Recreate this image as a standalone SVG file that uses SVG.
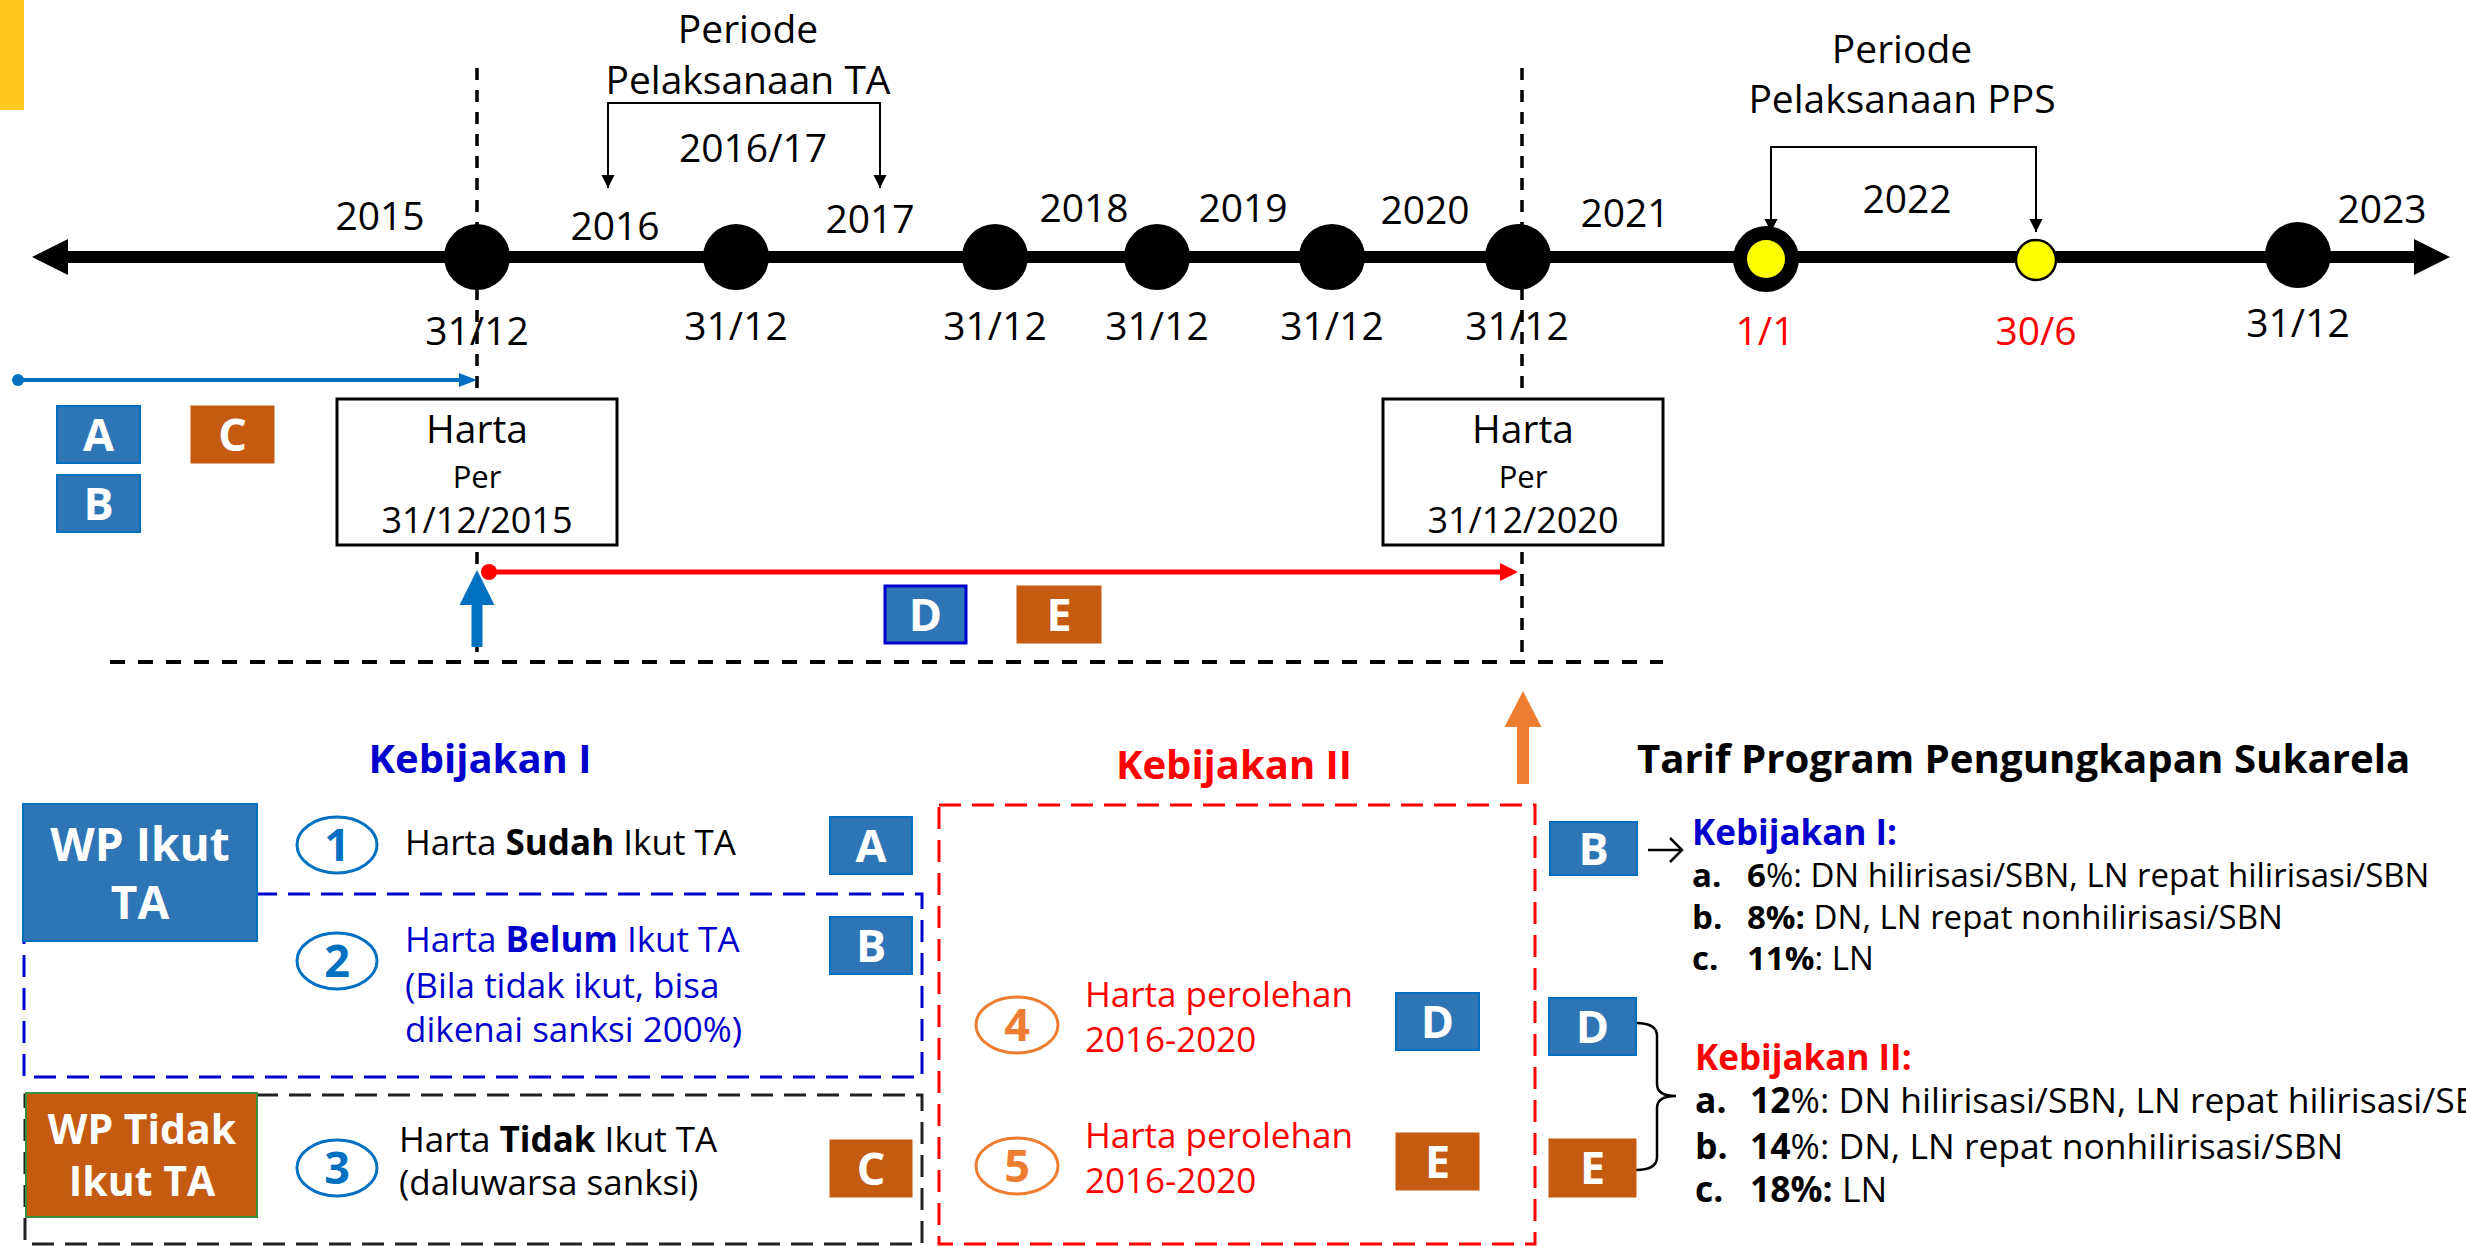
<svg xmlns="http://www.w3.org/2000/svg" width="2466" height="1247" viewBox="0 0 2466 1247">
<defs>
<style>
text{font-family:"Open Sans","Noto Sans","DejaVu Sans",sans-serif;fill:#000}
.tl{font-size:39px;text-anchor:middle}
.red{fill:#FF0000}
.b{font-weight:bold}
.box-blue{fill:#2E75B6;stroke:#0070C0;stroke-width:2}
.box-or{fill:#C55A11;stroke:#C55A11;stroke-width:1}
.lt{font-size:45px;font-weight:bold;fill:#fff;text-anchor:middle}
.dot{fill:#000}
.hb{fill:#fff;stroke:#000;stroke-width:3}
.num{font-size:45px;font-weight:bold;text-anchor:middle}
.item{font-size:35px}
.lst{font-size:33px}
.lst2{font-size:35.5px}
.vdash{stroke:#000;stroke-width:3.5;stroke-dasharray:12 10}
</style>
<marker id="ah" viewBox="0 0 10 10" refX="10" refY="5" markerWidth="13" markerHeight="15" markerUnits="userSpaceOnUse" orient="auto"><path d="M0,0 L10,5 L0,10 Z" fill="#000"/></marker>
</defs>
<rect x="0" y="0" width="2466" height="1247" fill="#fff"/>
<rect x="0" y="0" width="24" height="110" fill="#FFC821"/>

<g id="connectors">
  <line class="vdash" x1="477" y1="68" x2="477" y2="662"/>
  <line class="vdash" x1="1522" y1="68" x2="1522" y2="662"/>
  <line x1="110" y1="662" x2="1663" y2="662" stroke="#000" stroke-width="4" stroke-dasharray="15 13"/>
  <line x1="66" y1="257" x2="2416" y2="257" stroke="#000" stroke-width="12"/>
  <polygon points="32,257 68,239 68,275" fill="#000"/>
  <polygon points="2450,257 2414,239 2414,275" fill="#000"/>
  <polyline points="608,188 608,103 880,103 880,188" fill="none" stroke="#000" stroke-width="2" marker-end="url(#ah)"/>
  <line x1="608" y1="103" x2="608" y2="188" stroke="#000" stroke-width="2" marker-end="url(#ah)"/>
  <polyline points="1771,232 1771,147 2036,147 2036,232" fill="none" stroke="#000" stroke-width="2" marker-end="url(#ah)"/>
  <line x1="1771" y1="147" x2="1771" y2="232" stroke="#000" stroke-width="2" marker-end="url(#ah)"/>
  <line x1="18" y1="380" x2="462" y2="380" stroke="#0070C0" stroke-width="4"/>
  <circle cx="18" cy="380" r="6" fill="#0070C0"/>
  <polygon points="477,380 459,373 459,387" fill="#0070C0"/>
  <line x1="489" y1="572" x2="1502" y2="572" stroke="#FF0000" stroke-width="5"/>
  <circle cx="489" cy="572" r="8" fill="#FF0000"/>
  <polygon points="1518,572 1500,563 1500,581" fill="#FF0000"/>
  <polygon points="471.5,647 482.5,647 482.5,605 494.5,605 477,570 459.5,605 471.5,605" fill="#0070C0"/>
  <polygon points="1517,784 1529,784 1529,727 1541.5,727 1523,691 1504.5,727 1517,727" fill="#ED7D31"/>
  <line x1="1648" y1="850" x2="1681" y2="850" stroke="#000" stroke-width="2.5"/>
  <polyline points="1670,838 1682,850 1670,862" fill="none" stroke="#000" stroke-width="2.5"/>
  <path d="M1636,1023 Q1657,1023 1657,1036 L1657,1084 Q1657,1096 1676,1096 Q1657,1096 1657,1108 L1657,1157 Q1657,1170 1636,1170" fill="none" stroke="#000" stroke-width="2.5"/>
</g>

<g id="timeline-dots">
  <circle class="dot" cx="477" cy="257" r="33"/>
  <circle class="dot" cx="736" cy="257" r="33"/>
  <circle class="dot" cx="995" cy="257" r="33"/>
  <circle class="dot" cx="1157" cy="257" r="33"/>
  <circle class="dot" cx="1332" cy="257" r="33"/>
  <circle class="dot" cx="1518" cy="257" r="33"/>
  <circle class="dot" cx="1766" cy="259" r="33"/>
  <circle cx="1766" cy="259" r="19" fill="#FFFF00"/>
  <circle cx="2036" cy="260" r="20" fill="#FFFF00" stroke="#000" stroke-width="2.5"/>
  <circle class="dot" cx="2298" cy="255" r="33"/>
</g>

<g id="timeline-labels">
  <text class="tl" x="380" y="230">2015</text>
  <text class="tl" x="615" y="240">2016</text>
  <text class="tl" x="870" y="233">2017</text>
  <text class="tl" x="1084" y="222">2018</text>
  <text class="tl" x="1243" y="222">2019</text>
  <text class="tl" x="1425" y="224">2020</text>
  <text class="tl" x="1625" y="227">2021</text>
  <text class="tl" x="1907" y="213">2022</text>
  <text class="tl" x="2382" y="223">2023</text>
  <text class="tl" x="477" y="345">31/12</text>
  <text class="tl" x="736" y="340">31/12</text>
  <text class="tl" x="995" y="340">31/12</text>
  <text class="tl" x="1157" y="340">31/12</text>
  <text class="tl" x="1332" y="340">31/12</text>
  <text class="tl" x="1517" y="340">31/12</text>
  <text class="tl red" x="1765" y="345">1/1</text>
  <text class="tl red" x="2036" y="345">30/6</text>
  <text class="tl" x="2298" y="337">31/12</text>
</g>

<g id="periode-ta">
  <text class="tl" x="748" y="43">Periode</text>
  <text class="tl" x="748" y="94">Pelaksanaan TA</text>
  <text class="tl" x="753" y="162">2016/17</text>
</g>
<g id="periode-pps">
  <text class="tl" x="1902" y="63">Periode</text>
  <text class="tl" x="1902" y="113">Pelaksanaan PPS</text>
</g>

<g id="top-A"><rect class="box-blue" x="57" y="406" width="83" height="57"/><text class="lt" x="98.5" y="450.5">A</text></g>
<g id="top-C"><rect class="box-or" x="191" y="406" width="83" height="57"/><text class="lt" x="232.5" y="450.5">C</text></g>
<g id="top-B"><rect class="box-blue" x="57" y="475" width="83" height="57"/><text class="lt" x="98.5" y="519.5">B</text></g>

<g id="harta-2015">
  <rect class="hb" x="337" y="399" width="280" height="146"/>
  <text x="477" y="443" text-anchor="middle" font-size="39">Harta</text>
  <text x="477" y="488" text-anchor="middle" font-size="31">Per</text>
  <text x="477" y="533" text-anchor="middle" font-size="36">31/12/2015</text>
</g>
<g id="harta-2020">
  <rect class="hb" x="1383" y="399" width="280" height="146"/>
  <text x="1523" y="443" text-anchor="middle" font-size="39">Harta</text>
  <text x="1523" y="488" text-anchor="middle" font-size="31">Per</text>
  <text x="1523" y="533" text-anchor="middle" font-size="36">31/12/2020</text>
</g>

<g id="top-D"><rect x="885" y="586" width="81" height="57" fill="#2E75B6" stroke="#0000CC" stroke-width="3"/><text class="lt" x="925.5" y="630.5">D</text></g>
<g id="top-E"><rect class="box-or" x="1017" y="586" width="84" height="57"/><text class="lt" x="1059" y="630.5">E</text></g>

<g id="kebijakan-1-title"><text x="480" y="773" text-anchor="middle" font-size="40" class="b" style="fill:#0000CC">Kebijakan I</text></g>
<g id="kebijakan-2-title"><text x="1234" y="779" text-anchor="middle" font-size="40" class="b red">Kebijakan II</text></g>
<g id="tarif-title"><text x="1637" y="773" font-size="40.2" class="b">Tarif Program Pengungkapan Sukarela</text></g>

<g id="group-belum">
  <rect x="24" y="894" width="898" height="183" fill="none" stroke="#0000CC" stroke-width="3" stroke-dasharray="22 11"/>
</g>
<g id="group-tidak">
  <rect x="25" y="1095" width="897" height="149" fill="none" stroke="#222" stroke-width="3" stroke-dasharray="22 11"/>
</g>
<g id="group-kebijakan2">
  <rect x="939" y="805" width="596" height="439" fill="none" stroke="#FF0000" stroke-width="3" stroke-dasharray="22 11"/>
</g>

<g id="wp-ikut">
  <rect x="23" y="804" width="234" height="137" fill="#2E75B6" stroke="#0070C0" stroke-width="2"/>
  <text x="140" y="861" text-anchor="middle" font-size="46" class="b" style="fill:#fff">WP Ikut</text>
  <text x="140" y="919" text-anchor="middle" font-size="46" class="b" style="fill:#fff">TA</text>
</g>
<g id="wp-tidak">
  <rect x="26" y="1093" width="231" height="124" fill="#C55A11" stroke="#3A8F3A" stroke-width="2"/>
  <text x="142" y="1144" text-anchor="middle" font-size="41" class="b" style="fill:#fff">WP Tidak</text>
  <text x="142" y="1196" text-anchor="middle" font-size="41" class="b" style="fill:#fff">Ikut TA</text>
</g>

<g id="item-1">
  <ellipse cx="337" cy="845" rx="40" ry="28" fill="#fff" stroke="#0070C0" stroke-width="3"/>
  <text class="num" x="337" y="861" style="fill:#0070C0">1</text>
  <text class="item" x="405" y="855">Harta <tspan class="b">Sudah</tspan> Ikut TA</text>
</g>
<g id="item-2">
  <ellipse cx="337" cy="961" rx="40" ry="28" fill="#fff" stroke="#0070C0" stroke-width="3"/>
  <text class="num" x="337" y="977" style="fill:#0070C0">2</text>
  <text class="item" x="405" y="952" style="fill:#0000CC">Harta <tspan class="b" style="fill:#0000CC">Belum</tspan> Ikut TA</text>
  <text class="item" x="405" y="998" style="fill:#0000CC">(Bila tidak ikut, bisa</text>
  <text class="item" x="405" y="1042" style="fill:#0000CC">dikenai sanksi 200%)</text>
</g>
<g id="item-3">
  <ellipse cx="337" cy="1168" rx="40" ry="28" fill="#fff" stroke="#0070C0" stroke-width="3"/>
  <text class="num" x="337" y="1184" style="fill:#0070C0">3</text>
  <text class="item" x="399" y="1152">Harta <tspan class="b">Tidak</tspan> Ikut TA</text>
  <text class="item" x="399" y="1195">(daluwarsa sanksi)</text>
</g>
<g id="item-4">
  <ellipse cx="1017" cy="1025" rx="41" ry="28" fill="#fff" stroke="#ED7D31" stroke-width="3"/>
  <text class="num" x="1017" y="1041" style="fill:#ED7D31">4</text>
  <text class="item red" x="1085" y="1007">Harta perolehan</text>
  <text class="item red" x="1085" y="1052">2016-2020</text>
</g>
<g id="item-5">
  <ellipse cx="1017" cy="1166" rx="41" ry="28" fill="#fff" stroke="#ED7D31" stroke-width="3"/>
  <text class="num" x="1017" y="1182" style="fill:#ED7D31">5</text>
  <text class="item red" x="1085" y="1148">Harta perolehan</text>
  <text class="item red" x="1085" y="1193">2016-2020</text>
</g>

<g id="mid-A"><rect class="box-blue" x="830" y="817" width="82" height="57"/><text class="lt" x="871" y="861.5">A</text></g>
<g id="mid-B"><rect class="box-blue" x="830" y="917" width="82" height="57"/><text class="lt" x="871" y="961.5">B</text></g>
<g id="mid-C"><rect class="box-or" x="830" y="1140" width="82" height="57"/><text class="lt" x="871" y="1184.5">C</text></g>
<g id="mid-D"><rect class="box-blue" x="1396" y="993" width="83" height="57"/><text class="lt" x="1437.5" y="1037.5">D</text></g>
<g id="mid-E"><rect class="box-or" x="1396" y="1133" width="83" height="57"/><text class="lt" x="1437.5" y="1177.5">E</text></g>

<g id="right-B"><rect class="box-blue" x="1550" y="822" width="87" height="53"/><text class="lt" x="1593.5" y="864.5">B</text></g>
<g id="right-D"><rect class="box-blue" x="1549" y="998" width="87" height="57"/><text class="lt" x="1592.5" y="1042.5">D</text></g>
<g id="right-E"><rect class="box-or" x="1549" y="1139" width="87" height="58"/><text class="lt" x="1592.5" y="1184">E</text></g>

<g id="tarif-kebijakan-1">
  <text x="1692" y="845" font-size="35" class="b" style="fill:#0000CC">Kebijakan I:</text>
  <text class="lst" y="887"><tspan x="1692" class="b">a.</tspan><tspan x="1747" class="b">6</tspan>%: DN hilirisasi/SBN, LN repat hilirisasi/SBN</text>
  <text class="lst" y="929"><tspan x="1692" class="b">b.</tspan><tspan x="1747" class="b">8%:</tspan> DN, LN repat nonhilirisasi/SBN</text>
  <text class="lst" y="970"><tspan x="1692" class="b">c.</tspan><tspan x="1747" class="b">11%</tspan>: LN</text>
</g>
<g id="tarif-kebijakan-2">
  <text x="1695" y="1070" font-size="35" class="b red">Kebijakan II:</text>
  <text class="lst2" y="1113"><tspan x="1695" class="b">a.</tspan><tspan x="1750" class="b">12</tspan>%: DN hilirisasi/SBN, LN repat hilirisasi/SBN</text>
  <text class="lst2" y="1159"><tspan x="1695" class="b">b.</tspan><tspan x="1750" class="b">14</tspan>%: DN, LN repat nonhilirisasi/SBN</text>
  <text class="lst2" y="1202"><tspan x="1695" class="b">c.</tspan><tspan x="1750" class="b">18%:</tspan> LN</text>
</g>
</svg>
